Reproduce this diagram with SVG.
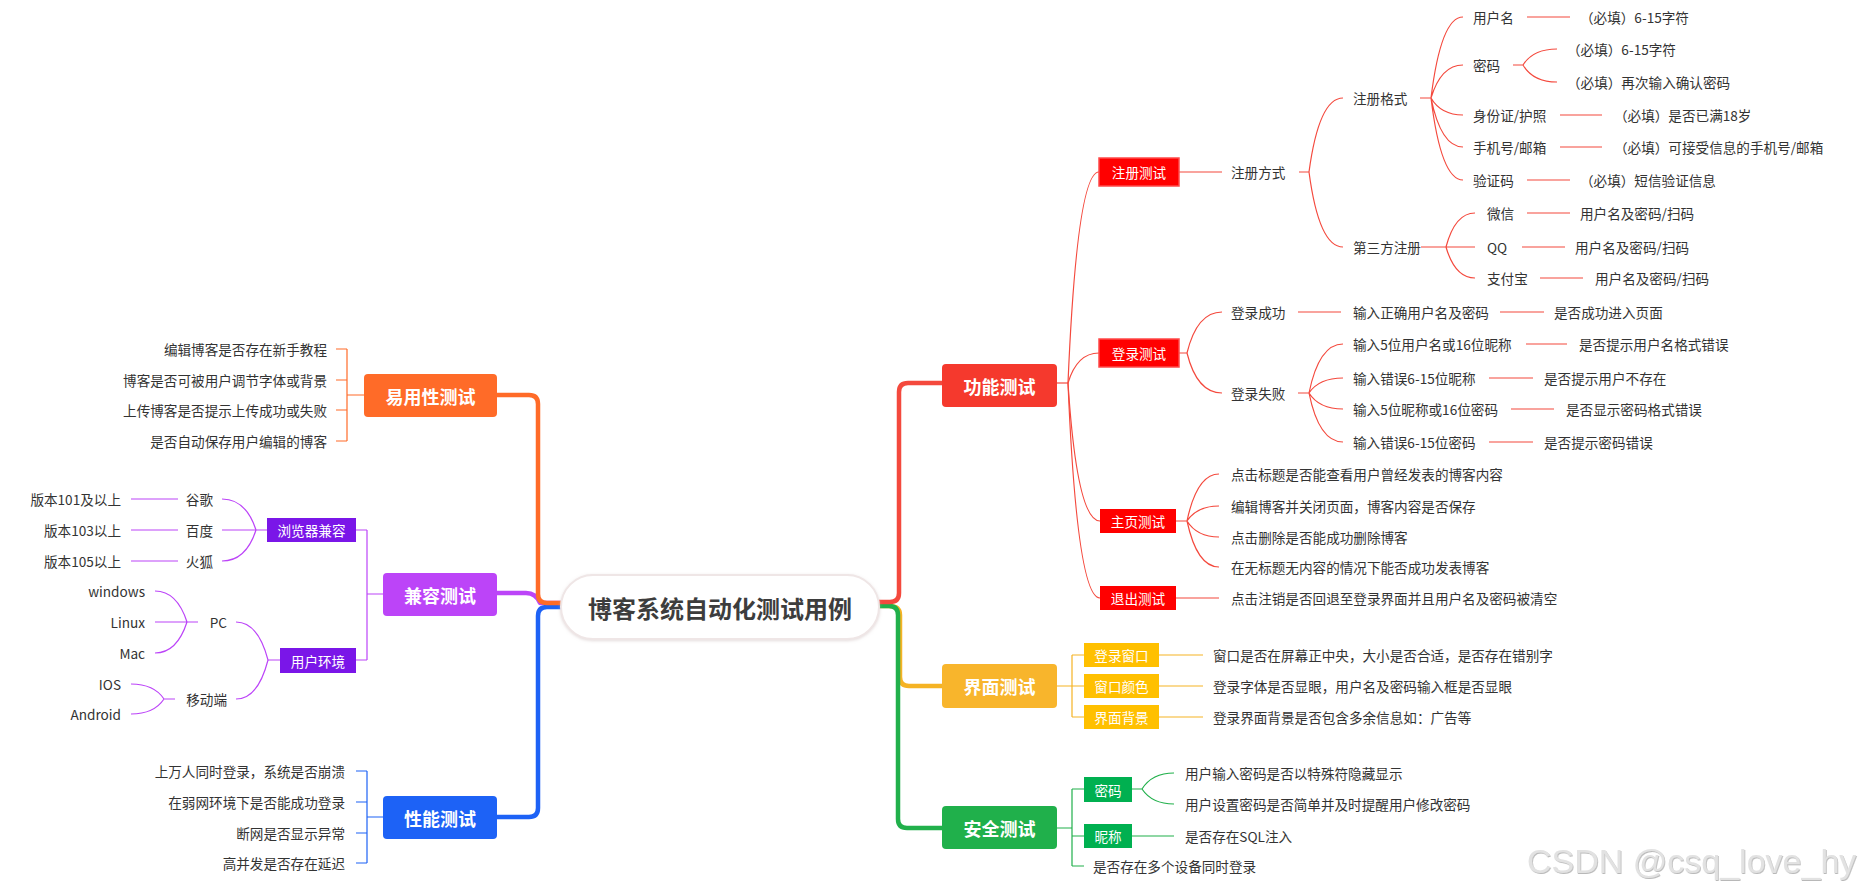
<svg xmlns="http://www.w3.org/2000/svg" width="1859" height="895" viewBox="0 0 1859 895">
<defs>
<style>
text{font-family:"Noto Sans CJK SC","Noto Sans",sans-serif;dominant-baseline:central}
.t{font-size:13.6px;fill:#333}
.e{text-anchor:end}
.b1{font-size:18px;font-weight:bold;fill:#fff;text-anchor:middle}
.b2{font-size:13.6px;fill:#fff;text-anchor:middle}
.main{fill:none;stroke-width:4.5;stroke-linecap:round;stroke-linejoin:round}
.thin{fill:none;stroke-width:1.2}
.red{stroke:#f4493d}
.yel{stroke:#f5b324}
.grn{stroke:#21b04b}
.org{stroke:#ff6b28}
.pur{stroke:#bc44f8}
.blu{stroke:#1d62f6}
.wm{font-family:"Liberation Sans",Arial,sans-serif;font-size:34px;fill:#e2e2e2}
</style>
<filter id="sh" x="-5%" y="-30%" width="110%" height="160%">
<feDropShadow dx="0.8" dy="1" stdDeviation="0.6" flood-color="#9a9a9a" flood-opacity="0.7"/>
</filter>
<filter id="ps" x="-10%" y="-30%" width="120%" height="160%">
<feDropShadow dx="0" dy="1" stdDeviation="1.5" flood-color="#c9b8b8" flood-opacity="0.5"/>
</filter>
</defs>
<rect width="1859" height="895" fill="#fff"/>

<g id="connectors">
<!-- main thick -->
<path class="main pur" d="M497,593 H526 Q536,593 540,603 H563"/>
<path class="main blu" d="M563,607 H547 Q538,607 538,616 V808 Q538,817 529,817 H497"/>
<path class="main org" d="M563,603 H547 Q538,603 538,594 V404 Q538,395 529,395 H497"/>
<path class="main yel" d="M878,606 H889 Q900,606 900,615 V677 Q900,686 909,686 H942"/>
<path class="main grn" d="M878,606 H889 Q898,606 898,615 V819 Q898,828 907,828 H942"/>
<path class="main red" d="M878,602 H890 Q899,602 899,593 V392 Q899,383 908,383 H942"/>

<!-- 功能测试 -->
<g class="thin red">
<path d="M1057,383 H1068"/>
<path d="M1068,383 Q1077,172 1099,172"/>
<path d="M1068,383 Q1077,353 1099,353"/>
<path d="M1068,383 Q1077,521 1100,521"/>
<path d="M1068,383 Q1077,598 1100,598"/>
<path d="M1179,172 H1222"/>
<path d="M1299,172 H1309 M1309,172 Q1319,98 1343,98 M1309,172 Q1319,247 1343,247"/>
<path d="M1420,98 H1431 M1431,98 Q1441,17 1463,17 M1431,98 Q1441,65 1463,65 M1431,98 Q1441,115 1463,115 M1431,98 Q1441,147 1463,147 M1431,98 Q1441,180 1463,180"/>
<path d="M1527,17 H1570"/>
<path d="M1513,65 H1523 M1523,65 Q1533,49 1557,49 M1523,65 Q1533,82 1557,82"/>
<path d="M1560,115 H1602"/>
<path d="M1560,147 H1602"/>
<path d="M1527,180 H1570"/>
<path d="M1421,247 H1475 M1446,247 Q1455,213 1475,213 M1446,247 Q1455,278 1475,278"/>
<path d="M1527,213 H1570"/>
<path d="M1522,247 H1565"/>
<path d="M1540,278 H1583"/>
<path d="M1179,353 H1187 M1187,353 Q1197,312 1222,312 M1187,353 Q1197,393 1222,393"/>
<path d="M1298,312 H1341"/>
<path d="M1500,312 H1544"/>
<path d="M1298,393 H1309 M1309,393 Q1319,344 1343,344 M1309,393 Q1319,378 1343,378 M1309,393 Q1319,409 1343,409 M1309,393 Q1319,442 1343,442"/>
<path d="M1526,344 H1567"/>
<path d="M1489,378 H1533"/>
<path d="M1511,409 H1554"/>
<path d="M1489,442 H1533"/>
<path d="M1176,521 H1187 M1187,521 Q1197,474 1219,474 M1187,521 Q1197,506 1219,506 M1187,521 Q1197,537 1219,537 M1187,521 Q1197,567 1219,567"/>
<path d="M1176,598 H1219"/>
</g>

<!-- 界面测试 -->
<g class="thin yel">
<path d="M1057,686 H1072 M1072,655 V717 M1072,655 H1084 M1072,686 H1084 M1072,717 H1084"/>
<path d="M1159,655 H1203 M1159,686 H1203 M1159,717 H1203"/>
</g>

<!-- 安全测试 -->
<g class="thin grn">
<path d="M1057,828 H1072 M1072,789 V866 M1072,789 H1084 M1072,836 H1084 M1072,866 H1084"/>
<path d="M1132,789 H1142 M1142,789 Q1152,773 1174,773 M1142,789 Q1152,804 1174,804"/>
<path d="M1132,836 H1174"/>
</g>

<!-- 易用性测试 -->
<g class="thin org">
<path d="M364,395 H347 M347,349 V441 M347,349 H336 M347,380 H336 M347,410 H336 M347,441 H336"/>
</g>

<!-- 兼容测试 -->
<g class="thin pur">
<path d="M383,594 H367 M367,530 V660 M367,530 H356 M367,660 H356"/>
<path d="M267,530 H222 M256,530 Q246,499 222,499 M256,530 Q246,561 222,561"/>
<path d="M178,499 H131 M178,530 H131 M178,561 H131"/>
<path d="M280,660 H268 M268,660 Q258,622 236,622 M268,660 Q258,699 236,699"/>
<path d="M198,622 H155 M187,622 Q177,591 155,591 M187,622 Q177,653 155,653"/>
<path d="M175,699 H164 M164,699 Q154,684 131,684 M164,699 Q154,714 131,714"/>
</g>

<!-- 性能测试 -->
<g class="thin blu">
<path d="M383,817 H367 M367,771 V863 M367,771 H356 M367,802 H356 M367,833 H356 M367,863 H356"/>
</g>
</g>

<g id="root">
<rect x="561" y="575" width="318" height="64" rx="32" fill="#fff" stroke="#efe6e6" stroke-width="2" filter="url(#ps)"/>
<text x="720" y="607" text-anchor="middle" style="font-size:24px;font-weight:bold;fill:#3d3d3d">博客系统自动化测试用例</text>
</g>

<g id="n-func">
<rect x="942" y="364" width="115" height="43" rx="4" fill="#f5392d"/>
<text class="b1" x="999.5" y="385.5">功能测试</text>
</g>
<g id="n-ui">
<rect x="942" y="664" width="115" height="44" rx="4" fill="#f8b52c"/>
<text class="b1" x="999.5" y="686">界面测试</text>
</g>
<g id="n-sec">
<rect x="942" y="806" width="115" height="43" rx="4" fill="#20b04b"/>
<text class="b1" x="999.5" y="827.5">安全测试</text>
</g>
<g id="n-usab">
<rect x="364" y="374" width="133" height="43" rx="4" fill="#ff6b28"/>
<text class="b1" x="430.5" y="395.5">易用性测试</text>
</g>
<g id="n-compat">
<rect x="383" y="573" width="114" height="43" rx="4" fill="#bc44f8"/>
<text class="b1" x="440" y="594.5">兼容测试</text>
</g>
<g id="n-perf">
<rect x="383" y="796" width="114" height="43" rx="4" fill="#1d62f6"/>
<text class="b1" x="440" y="817.5">性能测试</text>
</g>

<!-- 功能测试 children -->
<g id="n-reg">
<rect x="1099" y="158" width="80" height="28" fill="#ff0000" stroke="#ff4a4a" stroke-width="1.5"/>
<text class="b2" x="1139" y="172">注册测试</text>
</g>
<g id="n-reg-way"><text class="t" x="1231" y="172">注册方式</text></g>
<g id="n-reg-fmt"><text class="t" x="1353" y="98">注册格式</text></g>
<g id="n-reg-3rd"><text class="t" x="1353" y="247">第三方注册</text></g>
<g id="n-user"><text class="t" x="1473" y="17">用户名</text><text class="t" x="1580" y="17">（必填）6-15字符</text></g>
<g id="n-pwd"><text class="t" x="1473" y="65">密码</text><text class="t" x="1567" y="49">（必填）6-15字符</text><text class="t" x="1567" y="82">（必填）再次输入确认密码</text></g>
<g id="n-id"><text class="t" x="1473" y="115">身份证/护照</text><text class="t" x="1614" y="115">（必填）是否已满18岁</text></g>
<g id="n-phone"><text class="t" x="1473" y="147">手机号/邮箱</text><text class="t" x="1614" y="147">（必填）可接受信息的手机号/邮箱</text></g>
<g id="n-code"><text class="t" x="1473" y="180">验证码</text><text class="t" x="1580" y="180">（必填）短信验证信息</text></g>
<g id="n-wx"><text class="t" x="1487" y="213">微信</text><text class="t" x="1580" y="213">用户名及密码/扫码</text></g>
<g id="n-qq"><text class="t" x="1487" y="247">QQ</text><text class="t" x="1575" y="247">用户名及密码/扫码</text></g>
<g id="n-ali"><text class="t" x="1487" y="278">支付宝</text><text class="t" x="1595" y="278">用户名及密码/扫码</text></g>

<g id="n-login">
<rect x="1099" y="339" width="80" height="28" fill="#ff0000" stroke="#ff4a4a" stroke-width="1.5"/>
<text class="b2" x="1139" y="353">登录测试</text>
</g>
<g id="n-login-ok"><text class="t" x="1231" y="312">登录成功</text><text class="t" x="1353" y="312">输入正确用户名及密码</text><text class="t" x="1554" y="312">是否成功进入页面</text></g>
<g id="n-login-fail"><text class="t" x="1231" y="393">登录失败</text></g>
<g id="n-lf1"><text class="t" x="1353" y="344">输入5位用户名或16位昵称</text><text class="t" x="1579" y="344">是否提示用户名格式错误</text></g>
<g id="n-lf2"><text class="t" x="1353" y="378">输入错误6-15位昵称</text><text class="t" x="1544" y="378">是否提示用户不存在</text></g>
<g id="n-lf3"><text class="t" x="1353" y="409">输入5位昵称或16位密码</text><text class="t" x="1566" y="409">是否显示密码格式错误</text></g>
<g id="n-lf4"><text class="t" x="1353" y="442">输入错误6-15位密码</text><text class="t" x="1544" y="442">是否提示密码错误</text></g>

<g id="n-home">
<rect x="1100" y="509" width="76" height="24" fill="#ff0000"/>
<text class="b2" x="1138" y="521">主页测试</text>
</g>
<g id="n-home-items">
<text class="t" x="1231" y="474">点击标题是否能查看用户曾经发表的博客内容</text>
<text class="t" x="1231" y="506">编辑博客并关闭页面，博客内容是否保存</text>
<text class="t" x="1231" y="537">点击删除是否能成功删除博客</text>
<text class="t" x="1231" y="567">在无标题无内容的情况下能否成功发表博客</text>
</g>
<g id="n-exit">
<rect x="1100" y="586" width="76" height="24" fill="#ff0000"/>
<text class="b2" x="1138" y="598">退出测试</text>
<text class="t" x="1231" y="598">点击注销是否回退至登录界面并且用户名及密码被清空</text>
</g>

<!-- 界面测试 children -->
<g id="n-ui-win">
<rect x="1084" y="643" width="75" height="24" fill="#ffc000"/>
<text class="b2" x="1121.5" y="655">登录窗口</text>
<text class="t" x="1213" y="655">窗口是否在屏幕正中央，大小是否合适，是否存在错别字</text>
</g>
<g id="n-ui-color">
<rect x="1084" y="674" width="75" height="24" fill="#ffc000"/>
<text class="b2" x="1121.5" y="686">窗口颜色</text>
<text class="t" x="1213" y="686">登录字体是否显眼，用户名及密码输入框是否显眼</text>
</g>
<g id="n-ui-bg">
<rect x="1084" y="705" width="75" height="24" fill="#ffc000"/>
<text class="b2" x="1121.5" y="717">界面背景</text>
<text class="t" x="1213" y="717">登录界面背景是否包含多余信息如：广告等</text>
</g>

<!-- 安全测试 children -->
<g id="n-sec-pwd">
<rect x="1084" y="777" width="48" height="25" fill="#00b050"/>
<text class="b2" x="1108" y="789.5">密码</text>
<text class="t" x="1185" y="773">用户输入密码是否以特殊符隐藏显示</text>
<text class="t" x="1185" y="804">用户设置密码是否简单并及时提醒用户修改密码</text>
</g>
<g id="n-sec-nick">
<rect x="1084" y="824" width="48" height="24" fill="#00b050"/>
<text class="b2" x="1108" y="836">昵称</text>
<text class="t" x="1185" y="836">是否存在SQL注入</text>
</g>
<g id="n-sec-multi"><text class="t" x="1093" y="866">是否存在多个设备同时登录</text></g>

<!-- 易用性测试 children -->
<g id="n-usab-items">
<text class="t e" x="327" y="349">编辑博客是否存在新手教程</text>
<text class="t e" x="327" y="380">博客是否可被用户调节字体或背景</text>
<text class="t e" x="327" y="410">上传博客是否提示上传成功或失败</text>
<text class="t e" x="327" y="441">是否自动保存用户编辑的博客</text>
</g>

<!-- 兼容测试 children -->
<g id="n-browser">
<rect x="267" y="518" width="89" height="24" fill="#7a16e8"/>
<text class="b2" x="311.5" y="530">浏览器兼容</text>
</g>
<g id="n-chrome"><text class="t e" x="213" y="499">谷歌</text><text class="t e" x="121" y="499">版本101及以上</text></g>
<g id="n-baidu"><text class="t e" x="213" y="530">百度</text><text class="t e" x="121" y="530">版本103以上</text></g>
<g id="n-ff"><text class="t e" x="213" y="561">火狐</text><text class="t e" x="121" y="561">版本105以上</text></g>
<g id="n-env">
<rect x="280" y="648" width="76" height="25" fill="#7a16e8"/>
<text class="b2" x="318" y="660.5">用户环境</text>
</g>
<g id="n-pc"><text class="t e" x="227" y="622">PC</text></g>
<g id="n-pc-os">
<text class="t e" x="145" y="591">windows</text>
<text class="t e" x="145" y="622">Linux</text>
<text class="t e" x="145" y="653">Mac</text>
</g>
<g id="n-mobile"><text class="t e" x="227" y="699">移动端</text></g>
<g id="n-mobile-os">
<text class="t e" x="121" y="684">IOS</text>
<text class="t e" x="121" y="714">Android</text>
</g>

<!-- 性能测试 children -->
<g id="n-perf-items">
<text class="t e" x="345" y="771">上万人同时登录，系统是否崩溃</text>
<text class="t e" x="345" y="802">在弱网环境下是否能成功登录</text>
<text class="t e" x="345" y="833">断网是否显示异常</text>
<text class="t e" x="345" y="863">高并发是否存在延迟</text>
</g>

<text class="wm" x="1527" y="861" filter="url(#sh)">CSDN @csq_love_hy</text>
</svg>
